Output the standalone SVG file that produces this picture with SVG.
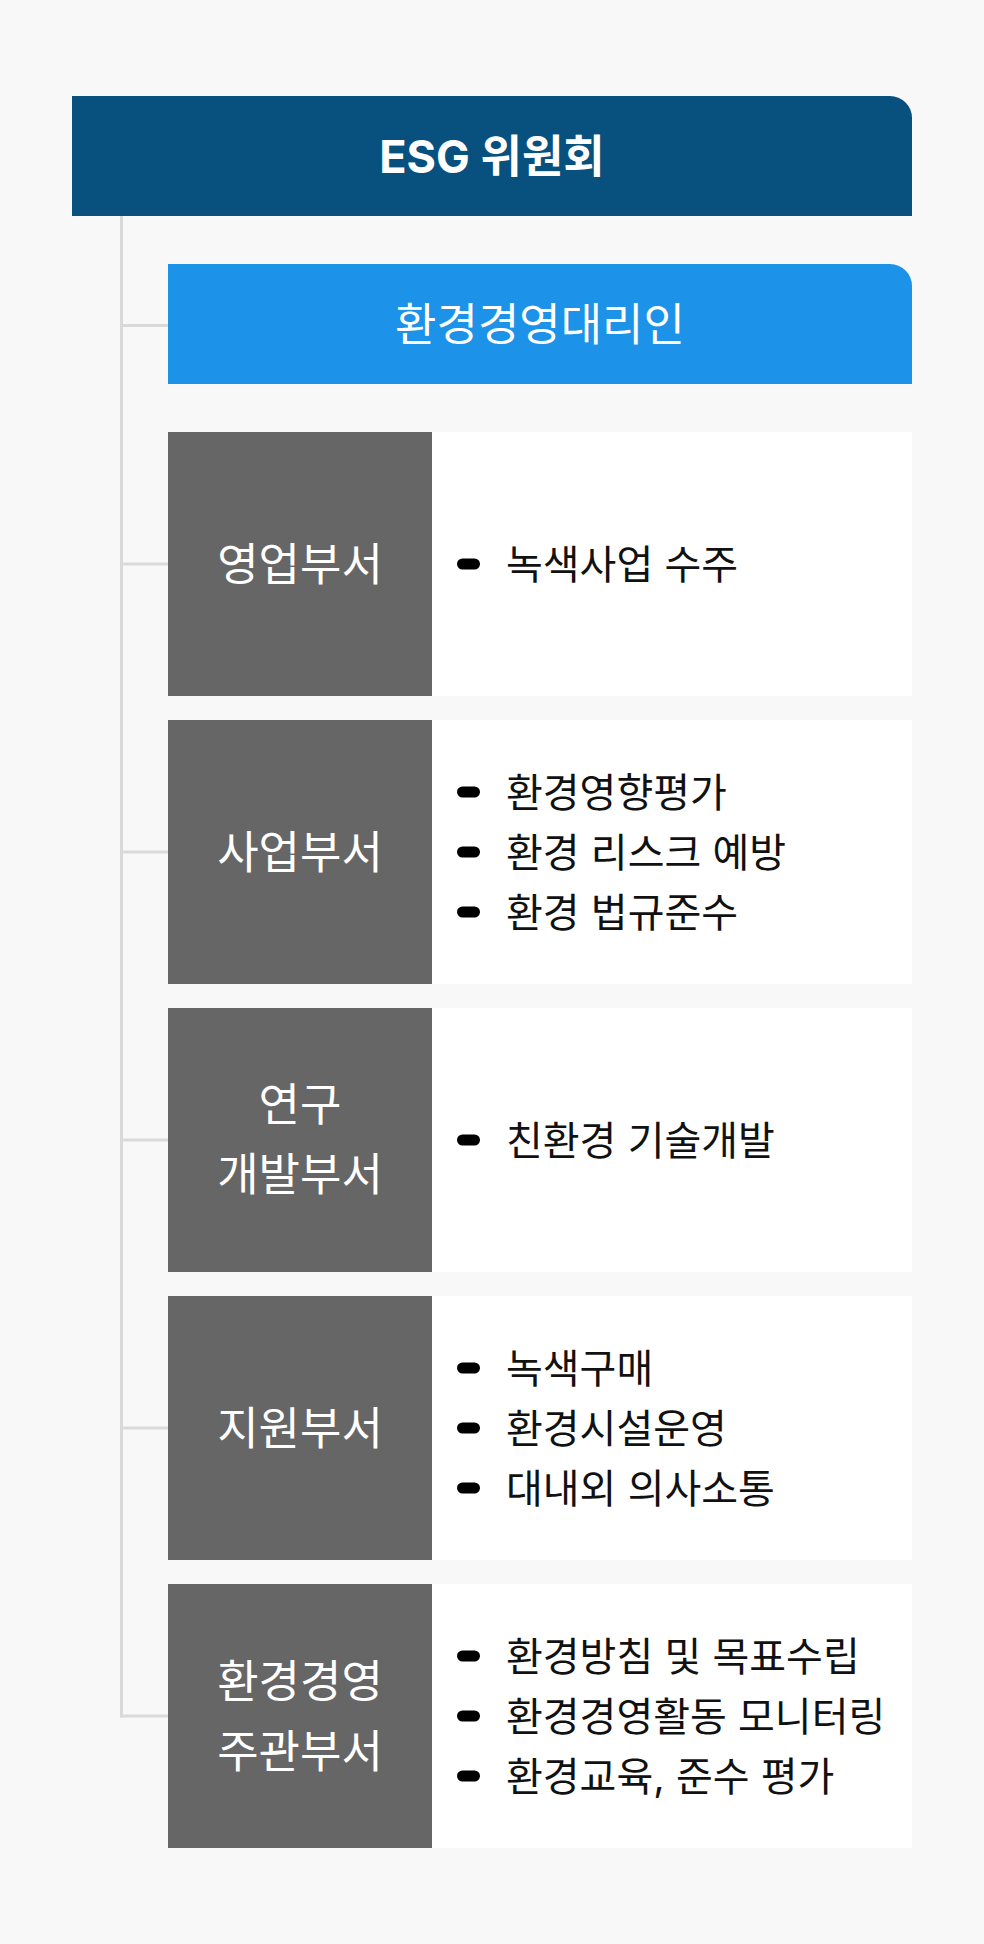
<svg xmlns="http://www.w3.org/2000/svg" width="984" height="1944" viewBox="0 0 984 1944">
  <style>
    text { font-family: "Inter", "Noto Sans CJK KR", "Noto Sans", sans-serif; dominant-baseline: central; }
    .title { fill: #FFFFFF; font-size: 45px; font-weight: 700; text-anchor: middle; }
    .sub { fill: #FFFFFF; font-size: 45px; font-weight: 400; text-anchor: middle; }
    .label { fill: #FFFFFF; font-size: 45px; font-weight: 400; text-anchor: middle; }
    .item { fill: #111111; font-size: 40px; font-weight: 400; }
    .head { fill: #666666; }
    .body { fill: #FFFFFF; }
    .bullet { fill: #000000; }
    .conn { stroke: #D9D9D9; stroke-width: 3; fill: none; }
  </style>
  <defs>
    <rect id="dot" x="0" y="-5.5" width="23" height="11" rx="5.5" ry="5.5"/>
  </defs>
  <rect x="0" y="0" width="984" height="1944" fill="#F8F8F8"/>

  <g id="connectors">
    <line class="conn" x1="121.5" y1="216" x2="121.5" y2="1717.5"/>
    <line class="conn" x1="120" y1="325.5" x2="168" y2="325.5"/>
    <line class="conn" x1="120" y1="564" x2="168" y2="564"/>
    <line class="conn" x1="120" y1="852" x2="168" y2="852"/>
    <line class="conn" x1="120" y1="1140" x2="168" y2="1140"/>
    <line class="conn" x1="120" y1="1428" x2="168" y2="1428"/>
    <line class="conn" x1="120" y1="1716" x2="168" y2="1716"/>
  </g>

  <g id="esg-committee">
    <path d="M72 96 H890 A22 22 0 0 1 912 118 V216 H72 Z" fill="#08517E"/>
    <text class="title" x="492" y="156">ESG 위원회</text>
  </g>

  <g id="env-agent">
    <path d="M168 264 H890 A22 22 0 0 1 912 286 V384 H168 Z" fill="#1C93E8"/>
    <text class="sub" x="540" y="324">환경경영대리인</text>
  </g>

  <g id="sales">
    <rect class="head" x="168" y="432" width="264" height="264"/>
    <rect class="body" x="432" y="432" width="480" height="264"/>
    <text class="label" x="300" y="564">영업부서</text>
    <use href="#dot" class="bullet" x="457" y="564"/>
    <text class="item" x="506" y="564">녹색사업 수주</text>
  </g>

  <g id="business">
    <rect class="head" x="168" y="720" width="264" height="264"/>
    <rect class="body" x="432" y="720" width="480" height="264"/>
    <text class="label" x="300" y="852">사업부서</text>
    <use href="#dot" class="bullet" x="457" y="792"/>
    <text class="item" x="506" y="792">환경영향평가</text>
    <use href="#dot" class="bullet" x="457" y="852"/>
    <text class="item" x="506" y="852">환경 리스크 예방</text>
    <use href="#dot" class="bullet" x="457" y="912"/>
    <text class="item" x="506" y="912">환경 법규준수</text>
  </g>

  <g id="rnd">
    <rect class="head" x="168" y="1008" width="264" height="264"/>
    <rect class="body" x="432" y="1008" width="480" height="264"/>
    <text class="label" x="300" y="1104">연구</text>
    <text class="label" x="300" y="1174">개발부서</text>
    <use href="#dot" class="bullet" x="457" y="1140"/>
    <text class="item" x="506" y="1140">친환경 기술개발</text>
  </g>

  <g id="support">
    <rect class="head" x="168" y="1296" width="264" height="264"/>
    <rect class="body" x="432" y="1296" width="480" height="264"/>
    <text class="label" x="300" y="1428">지원부서</text>
    <use href="#dot" class="bullet" x="457" y="1368"/>
    <text class="item" x="506" y="1368">녹색구매</text>
    <use href="#dot" class="bullet" x="457" y="1428"/>
    <text class="item" x="506" y="1428">환경시설운영</text>
    <use href="#dot" class="bullet" x="457" y="1488"/>
    <text class="item" x="506" y="1488">대내외 의사소통</text>
  </g>

  <g id="env-management">
    <rect class="head" x="168" y="1584" width="264" height="264"/>
    <rect class="body" x="432" y="1584" width="480" height="264"/>
    <text class="label" x="300" y="1681">환경경영</text>
    <text class="label" x="300" y="1751">주관부서</text>
    <use href="#dot" class="bullet" x="457" y="1656"/>
    <text class="item" x="506" y="1656">환경방침 및 목표수립</text>
    <use href="#dot" class="bullet" x="457" y="1716"/>
    <text class="item" x="506" y="1716">환경경영활동 모니터링</text>
    <use href="#dot" class="bullet" x="457" y="1776"/>
    <text class="item" x="506" y="1776">환경교육, 준수 평가</text>
  </g>
</svg>
